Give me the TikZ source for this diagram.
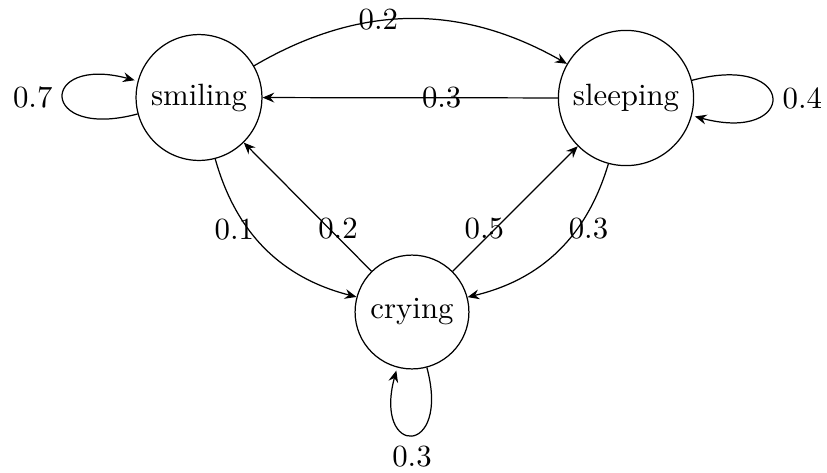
\documentclass[tikz,border=0pt]{standalone}
\usetikzlibrary{arrows.meta}
\begin{document}
\begin{tikzpicture}[x=0.3247pt,y=-0.3247pt,
  state/.style={draw,circle},
  lbl/.style={inner sep=0pt},
  >={Stealth[length=3.8pt,width=3.2pt,inset=1.3pt]}]
\useasboundingbox (0,0) rectangle (827,472);
\node[state] (smiling) at (199,97.5) {smiling};
\node[state] (sleeping) at (626,98) {sleeping};
\node[state] (crying) at (412,312) {crying};
\draw[->] (smiling) to[bend left=30] (sleeping);
\draw[->] (sleeping) -- (smiling);
\draw[->] (smiling) to[bend right=30] (crying);
\draw[->] (crying) -- (smiling);
\draw[->] (crying) -- (sleeping);
\draw[->] (sleeping) to[bend left=30] (crying);
\path[->] (smiling) edge[loop left] node[left] (l07) {0.7} ();
\path[->] (sleeping) edge[loop right] node[right] (l04) {0.4} ();
\path[->] (crying) edge[loop below] node[below] (l03b) {0.3} ();
\node[lbl] (l02t) at (378.3,20) {0.2};
\node[lbl] (l03m) at (441.7,98) {0.3};
\node[lbl] (l01) at (234.3,229.2) {0.1};
\node[lbl] (l02) at (338,229) {0.2};
\node[lbl] (l05) at (484.3,229) {0.5};
\node[lbl] (l03r) at (588.5,229) {0.3};
\end{tikzpicture}
\end{document}
